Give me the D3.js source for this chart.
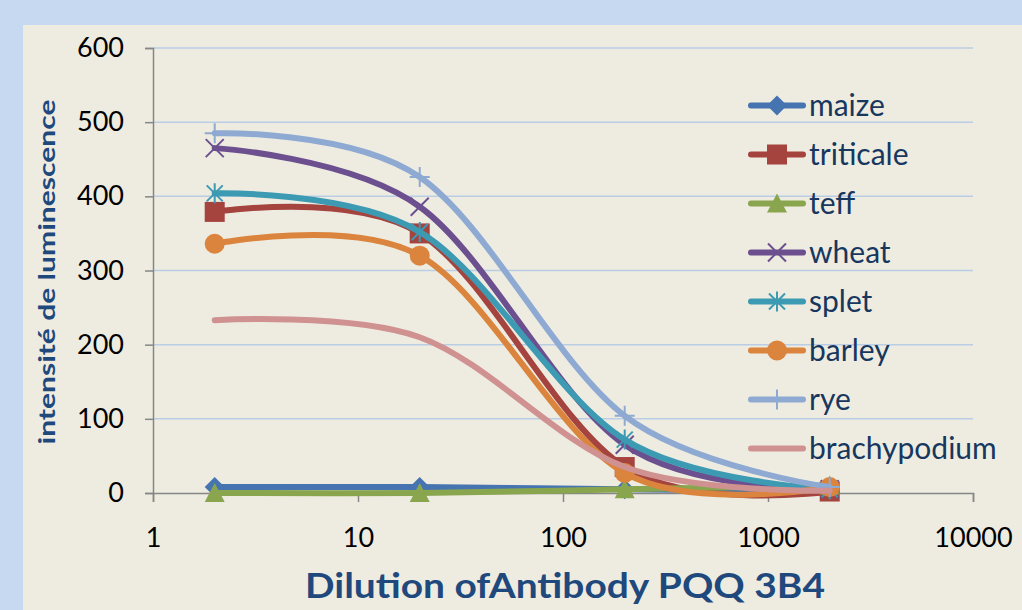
<!DOCTYPE html>
<html>
<head>
<meta charset="utf-8">
<script src="https://cdn.jsdelivr.net/npm/d3@7"></script>
<style>
  body { margin: 0; background: #c6d9f1; }
  svg { display: block; font-family: Lato, "Open Sans", sans-serif; }
</style>
</head>
<body>
<div id="chart"></div>
<script>
/* DATA */
const dilutions = [2, 20, 200, 2000];
const seriesNames = ["maize", "triticale", "teff", "wheat", "splet", "barley", "rye", "brachypodium"];
const maize = [8, 8, 5, 3];
const triticale = [379, 350, 35, 2];
const teff = [0, 0, 5, 10];
const wheat = [465, 386, 65, 5];
const splet = [404, 352, 72, 5];
const barley = [336, 320, 27, 8];
const rye = [485, 426, 104, 8];
const brachypodium = [233, 210, 35, 3];
const yTicks = [0, 100, 200, 300, 400, 500, 600];
const xTicks = [1, 10, 100, 1000, 10000];

/* CONSTANTS */
const width = 1022, height = 610;
const colors = ["#4674b0", "#a5433f", "#89a54e", "#6c4f8e", "#3c9ab2", "#db843d", "#8ea9d2", "#d09191"];
const markers = ["diamond", "square", "triangle", "x", "star", "circle", "plus", "none"];
const values = [maize, triticale, teff, wheat, splet, barley, rye, brachypodium];

const series = seriesNames.map((name, i) => ({
  name, color: colors[i], marker: markers[i],
  points: dilutions.map((d, j) => ({ x: d, y: values[i][j] }))
}));

const svg = d3.select("#chart").append("svg")
  .attr("width", width).attr("height", height);

// inner panel
svg.append("rect").attr("x", 23).attr("y", 25)
  .attr("width", width - 23).attr("height", height - 25)
  .attr("fill", "#eeece1");

const x = d3.scaleLog().domain([1, 10000]).range([153, 973]);
const y = d3.scaleLinear().domain([0, 600]).range([493, 48]);

// gridlines
svg.append("g").selectAll("line")
  .data(yTicks.filter(d => d > 0))
  .join("line")
  .attr("x1", x(1)).attr("x2", x(10000))
  .attr("y1", d => y(d)).attr("y2", d => y(d))
  .attr("stroke", "#b9cde5").attr("stroke-width", 1.5);

// axes
const yAxis = svg.append("g").attr("transform", `translate(${x(1)},0)`)
  .call(d3.axisLeft(y).tickValues(yTicks).tickSize(8).tickPadding(21));
const xAxis = svg.append("g").attr("transform", `translate(0,${y(0)})`)
  .call(d3.axisBottom(x).tickValues(xTicks).tickFormat(d3.format("d")).tickSize(9).tickPadding(26));
[yAxis, xAxis].forEach(g => {
  g.select(".domain").attr("stroke", "#868686").attr("stroke-width", 1.5);
  g.selectAll(".tick line").attr("stroke", "#868686").attr("stroke-width", 1.5);
  g.selectAll(".tick text").attr("fill", "#000").style("font-size", "27px")
    .style("font-family", "Lato, sans-serif");
});

// axis titles
svg.append("text")
  .attr("transform", "translate(55,272) rotate(-90)")
  .attr("text-anchor", "middle")
  .attr("fill", "#1f497d").attr("font-weight", "bold").style("font-size", "23px")
  .attr("textLength", 345).attr("lengthAdjust", "spacingAndGlyphs")
  .text("intensité de luminescence");
svg.append("text")
  .attr("x", 565).attr("y", 598)
  .attr("text-anchor", "middle")
  .attr("fill", "#1f497d").attr("font-weight", "bold").style("font-size", "35px")
  .attr("textLength", 520).attr("lengthAdjust", "spacingAndGlyphs")
  .text("Dilution ofAntibody PQQ 3B4");

// marker drawing
function drawMarker(g, type, color) {
  if (type === "diamond") {
    g.append("path").attr("d", "M0,-10L10,0L0,10L-10,0Z").attr("fill", color);
  } else if (type === "square") {
    g.append("rect").attr("x", -10).attr("y", -10).attr("width", 20).attr("height", 20).attr("fill", color);
  } else if (type === "triangle") {
    g.append("path").attr("d", "M0,-10L10,9L-10,9Z").attr("fill", color);
  } else if (type === "circle") {
    g.append("circle").attr("r", 10).attr("fill", color);
  } else if (type === "x") {
    g.append("path").attr("d", "M-9,-9L9,9M-9,9L9,-9").attr("stroke", color).attr("stroke-width", 2);
  } else if (type === "star") {
    g.append("path").attr("d", "M-8,-8L8,8M-8,8L8,-8M0,-10L0,10").attr("stroke", color).attr("stroke-width", 2);
  } else if (type === "plus") {
    g.append("path").attr("d", "M0,-10L0,10M-10,0L10,0").attr("stroke", color).attr("stroke-width", 2);
  }
}

// lines
const line = d3.line()
  .x(d => x(d.x)).y(d => y(d.y))
  .curve(d3.curveCardinal.tension(0));

series.forEach(s => {
  const g = svg.append("g");
  g.append("path").datum(s.points)
    .attr("d", line)
    .attr("fill", "none").attr("stroke", s.color)
    .attr("stroke-width", 6).attr("stroke-linecap", "round");
  s.points.forEach(p => {
    const m = g.append("g").attr("transform", `translate(${x(p.x)},${y(p.y)})`);
    drawMarker(m, s.marker, s.color);
  });
});

// legend
const legend = svg.append("g");
series.forEach((s, i) => {
  const ly = 105.5 + i * 49;
  const item = legend.append("g").attr("transform", `translate(0,${ly})`);
  item.append("line").attr("x1", 751).attr("x2", 803)
    .attr("stroke", s.color).attr("stroke-width", 6).attr("stroke-linecap", "round");
  drawMarker(item.append("g").attr("transform", "translate(777,0)"), s.marker, s.color);
  item.append("text").attr("x", 809).attr("y", 0).attr("dy", "0.35em")
    .attr("fill", "#17375e").style("font-size", "30px").text(s.name);
});
</script>
</body>
</html>
